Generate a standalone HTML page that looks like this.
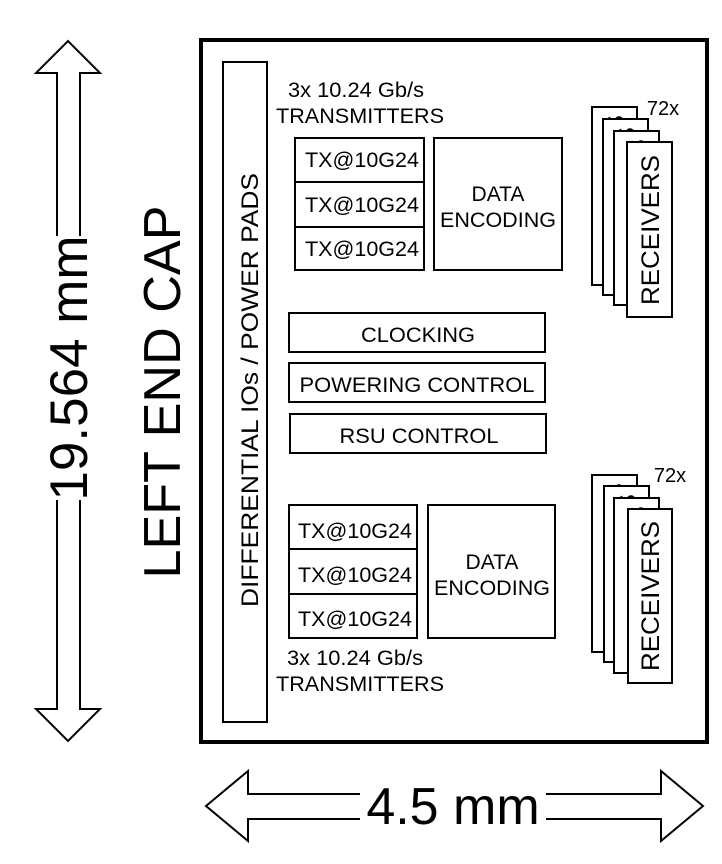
<!DOCTYPE html>
<html><head><meta charset="utf-8"><style>
html,body{margin:0;padding:0;background:#fff;}
svg{display:block;}
text{font-family:"Liberation Sans",Arial,sans-serif;fill:#000;}
</style></head><body>
<svg width="722" height="864" viewBox="0 0 722 864" xmlns="http://www.w3.org/2000/svg">
<g fill="none" stroke="#000" stroke-width="2">
<polyline points="57,236 57,73 36,73 68,41 100,73 80,73 80,236"/>
<polyline points="57,500 57,709 36,709 68,741 100,709 80,709 80,500"/>
<polyline points="360,794 248,794 248,771 206,806 248,841 248,819 360,819"/>
<polyline points="546,794 661,794 661,771 703,806 661,841 661,819 546,819"/>
</g>
<text transform="translate(87,368) rotate(-90)" font-size="53" text-anchor="middle">19.564 mm</text>
<text transform="translate(180,392) rotate(-90)" font-size="52" text-anchor="middle" textLength="373" lengthAdjust="spacingAndGlyphs">LEFT END CAP</text>
<text x="453" y="824" font-size="52" text-anchor="middle">4.5 mm</text>

<rect x="201" y="40" width="506" height="702" fill="none" stroke="#000" stroke-width="4"/>

<g fill="#fff" stroke="#000" stroke-width="2">
<rect x="223" y="62" width="44" height="660"/>
<rect x="295" y="138" width="129" height="44"/>
<rect x="295" y="182" width="129" height="45"/>
<rect x="295" y="227" width="129" height="43"/>
<rect x="434" y="138" width="128" height="132"/>
<rect x="289" y="313" width="256" height="39"/>
<rect x="289" y="363" width="256" height="39"/>
<rect x="290" y="414" width="256" height="39"/>
<rect x="289" y="505" width="128" height="44"/>
<rect x="289" y="549" width="128" height="45"/>
<rect x="289" y="594" width="128" height="44"/>
<rect x="428" y="505" width="127" height="133"/>
</g>

<text transform="translate(258,390) rotate(-90)" font-size="24" text-anchor="middle" textLength="434" lengthAdjust="spacingAndGlyphs">DIFFERENTIAL IOs / POWER PADS</text>

<g font-size="21" text-anchor="middle">
<text x="356" y="97" textLength="136" lengthAdjust="spacingAndGlyphs">3x 10.24 Gb/s</text>
<text x="360" y="123" textLength="168" lengthAdjust="spacingAndGlyphs">TRANSMITTERS</text>
<text x="362" y="167" textLength="114" lengthAdjust="spacingAndGlyphs">TX@10G24</text>
<text x="362" y="212" textLength="114" lengthAdjust="spacingAndGlyphs">TX@10G24</text>
<text x="362" y="256" textLength="114" lengthAdjust="spacingAndGlyphs">TX@10G24</text>
<text x="498" y="201">DATA</text>
<text x="498" y="227" textLength="116" lengthAdjust="spacingAndGlyphs">ENCODING</text>
<text x="418" y="342" textLength="114" lengthAdjust="spacingAndGlyphs">CLOCKING</text>
<text x="417" y="392" textLength="235" lengthAdjust="spacingAndGlyphs">POWERING CONTROL</text>
<text x="419" y="443" textLength="159" lengthAdjust="spacingAndGlyphs">RSU CONTROL</text>
<text x="355" y="538" textLength="114" lengthAdjust="spacingAndGlyphs">TX@10G24</text>
<text x="355" y="582" textLength="114" lengthAdjust="spacingAndGlyphs">TX@10G24</text>
<text x="355" y="626" textLength="114" lengthAdjust="spacingAndGlyphs">TX@10G24</text>
<text x="492" y="569">DATA</text>
<text x="492" y="595" textLength="116" lengthAdjust="spacingAndGlyphs">ENCODING</text>
<text x="355" y="665" textLength="136" lengthAdjust="spacingAndGlyphs">3x 10.24 Gb/s</text>
<text x="360" y="691" textLength="168" lengthAdjust="spacingAndGlyphs">TRANSMITTERS</text>
</g>

<g font-size="25" text-anchor="middle">
<rect x="592" y="107" width="45" height="178" fill="#fff" stroke="#000" stroke-width="2"/>
<text transform="translate(624,190) rotate(-90)" textLength="150" lengthAdjust="spacingAndGlyphs">RECEIVERS</text>
<rect x="603" y="119" width="45" height="176" fill="#fff" stroke="#000" stroke-width="2"/>
<text transform="translate(635,202) rotate(-90)" textLength="150" lengthAdjust="spacingAndGlyphs">RECEIVERS</text>
<rect x="614" y="131" width="45" height="174" fill="#fff" stroke="#000" stroke-width="2"/>
<text transform="translate(646,214) rotate(-90)" textLength="150" lengthAdjust="spacingAndGlyphs">RECEIVERS</text>
<rect x="627" y="142" width="45" height="175" fill="#fff" stroke="#000" stroke-width="2"/>
<text transform="translate(659,230) rotate(-90)" textLength="150" lengthAdjust="spacingAndGlyphs">RECEIVERS</text>

<rect x="592" y="475" width="45" height="177" fill="#fff" stroke="#000" stroke-width="2"/>
<text transform="translate(624,558) rotate(-90)" textLength="150" lengthAdjust="spacingAndGlyphs">RECEIVERS</text>
<rect x="604" y="486" width="45" height="176" fill="#fff" stroke="#000" stroke-width="2"/>
<text transform="translate(636,569) rotate(-90)" textLength="150" lengthAdjust="spacingAndGlyphs">RECEIVERS</text>
<rect x="614" y="498" width="45" height="175" fill="#fff" stroke="#000" stroke-width="2"/>
<text transform="translate(646,581) rotate(-90)" textLength="150" lengthAdjust="spacingAndGlyphs">RECEIVERS</text>
<rect x="628" y="509" width="44" height="174" fill="#fff" stroke="#000" stroke-width="2"/>
<text transform="translate(659,596) rotate(-90)" textLength="150" lengthAdjust="spacingAndGlyphs">RECEIVERS</text>
</g>
<text x="663" y="115" font-size="20" text-anchor="middle">72x</text>
<text x="670" y="482" font-size="20" text-anchor="middle">72x</text>
</svg>
</body></html>
